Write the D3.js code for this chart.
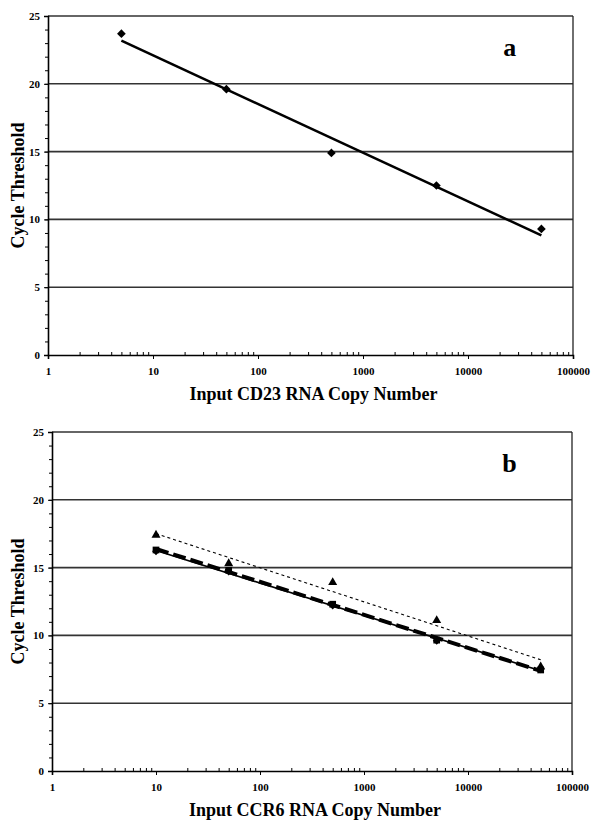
<!DOCTYPE html>
<html>
<head>
<meta charset="utf-8">
<script src="https://cdn.jsdelivr.net/npm/d3@7"></script>
<style>
  body { margin: 0; background: #fff; }
  svg text { font-family: "Liberation Serif", "Times New Roman", serif; font-weight: bold; fill: #000; }
</style>
</head>
<body>
<svg id="chart" width="591" height="820"></svg>
<script>
// Panel a: CD23 standard curve
const copiesA = [5, 50, 500, 5000, 50000];
const ctA = [23.7, 19.6, 14.9, 12.5, 9.3];

// Panel b: CCR6 standard curves (three runs)
const copiesB = [10, 50, 500, 5000, 50000];
const ctBSquare = [16.3, 14.8, 12.3, 9.65, 7.45];
const ctBDiamond = [16.2, 14.7, 12.2, 9.6, 7.5];
const ctBTriangle = [17.4, 15.3, 13.9, 11.1, 7.7];

const xTicks = [1, 10, 100, 1000, 10000, 100000];
const yTicks = [0, 5, 10, 15, 20, 25];

const svg = d3.select("#chart");

// least squares fit of ct against log10(copies), like the Excel trendline
function logFit(xs, ys) {
	const lx = xs.map(Math.log10);
	const mx = d3.mean(lx), my = d3.mean(ys);
	const slope = d3.sum(lx, (v, i) => (v - mx) * (ys[i] - my)) / d3.sum(lx, v => (v - mx) ** 2);
	const ends = [d3.min(xs), d3.max(xs)];
	return ends.map(x => ({x: x, y: my + slope * (Math.log10(x) - mx)}));
}

function drawPanel(opt) {
	const g = svg.append("g");

	const x = d3.scaleLog().domain([1, 100000]).range([opt.left, opt.right]);
	const y = d3.scaleLinear().domain([0, 25]).range([opt.bottom, opt.top]);

	// horizontal gridlines
	g.selectAll(".grid")
		.data(yTicks.filter(d => d > 0))
		.enter().append("line")
		.attr("x1", opt.left).attr("x2", opt.right)
		.attr("y1", d => y(d)).attr("y2", d => y(d))
		.attr("stroke", "#333").attr("stroke-width", 1.6);

	// right border
	g.append("line")
		.attr("x1", opt.right).attr("x2", opt.right)
		.attr("y1", y(25)).attr("y2", y(0))
		.attr("stroke", "#222").attr("stroke-width", 1.3);

	// y minor ticks
	g.append("g")
		.attr("transform", `translate(${opt.left},0)`)
		.call(d3.axisLeft(y).tickValues(d3.range(0, 26)).tickSize(3).tickFormat(""))
		.call(a => a.select(".domain").remove());

	// y axis
	g.append("g")
		.attr("transform", `translate(${opt.left},0)`)
		.call(d3.axisLeft(y).tickValues(yTicks).tickSize(4).tickPadding(4))
		.call(a => a.select(".domain").attr("stroke-width", 1.6))
		.call(a => a.selectAll("text").style("font-size", "11px"));

	// x minor ticks (2..9 in each decade), drawn inside the plot
	const minor = [];
	xTicks.slice(0, -1).forEach(t => { for (let k = 2; k <= 9; k++) minor.push(t * k); });
	g.append("g")
		.attr("transform", `translate(0,${opt.bottom})`)
		.call(d3.axisBottom(x).tickValues(minor).tickSize(-3).tickFormat(""))
		.call(a => a.select(".domain").remove());

	// x axis
	g.append("g")
		.attr("transform", `translate(0,${opt.bottom})`)
		.call(d3.axisBottom(x).tickValues(xTicks).tickSize(4).tickPadding(8).tickFormat(d3.format("d")))
		.call(a => a.select(".domain").attr("stroke-width", 1.6))
		.call(a => a.selectAll("text").style("font-size", "11px"));

	// axis titles
	g.append("text")
		.attr("x", (opt.left + opt.right) / 2 + 3)
		.attr("y", opt.bottom + 45)
		.attr("text-anchor", "middle")
		.style("font-size", "18px")
		.text(opt.xTitle);

	g.append("text")
		.attr("transform", `translate(24,${(opt.top + opt.bottom) / 2}) rotate(-90)`)
		.attr("text-anchor", "middle")
		.style("font-size", "18px")
		.text("Cycle Threshold");

	// panel letter
	g.append("text")
		.attr("x", x(25000))
		.attr("y", y(22.5))
		.attr("text-anchor", "middle")
		.attr("dominant-baseline", "middle")
		.style("font-size", "26px")
		.text(opt.letter);

	const line = d3.line().x(d => x(d.x)).y(d => y(d.y));

	opt.series.forEach(s => {
		const pts = s.values.map((v, i) => ({x: opt.copies[i], y: v}));
		g.append("path")
			.datum(logFit(opt.copies, s.values))
			.attr("fill", "none")
			.attr("stroke", "#000")
			.attr("stroke-width", s.width)
			.attr("stroke-dasharray", s.dash)
			.attr("d", line);

		// diamonds are squares turned 45 degrees, as Excel draws them
		g.selectAll(null)
			.data(pts)
			.enter().append("path")
			.attr("transform", d => `translate(${x(d.x)},${y(d.y)})` + (s.diamond ? " rotate(45)" : ""))
			.attr("d", d3.symbol().type(s.symbol).size(s.size))
			.attr("fill", "#000");
	});
}

drawPanel({
	left: 48, right: 573, top: 16, bottom: 355,
	letter: "a",
	xTitle: "Input CD23 RNA Copy Number",
	copies: copiesA,
	series: [
		{values: ctA, symbol: d3.symbolSquare, diamond: true, size: 38, width: 2.6, dash: null}
	]
});

drawPanel({
	left: 52, right: 572, top: 432, bottom: 771,
	letter: "b",
	xTitle: "Input CCR6 RNA Copy Number",
	copies: copiesB,
	series: [
		{values: ctBDiamond, symbol: d3.symbolSquare, diamond: true, size: 30, width: 1.6, dash: null},
		{values: ctBSquare, symbol: d3.symbolSquare, size: 45, width: 4, dash: "13,5"},
		{values: ctBTriangle, symbol: d3.symbolTriangle, size: 35, width: 1.1, dash: "3,3"}
	]
});
</script>
</body>
</html>
